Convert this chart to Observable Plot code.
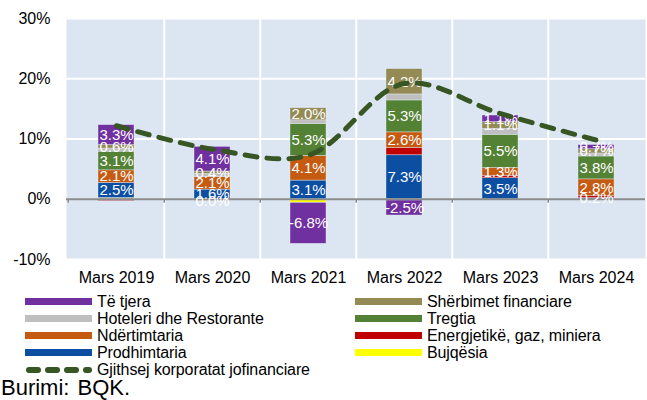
<!DOCTYPE html>
<html><head><meta charset="utf-8">
<script src="https://cdn.jsdelivr.net/npm/d3@7"></script>
<script src="https://cdn.jsdelivr.net/npm/@observablehq/plot@0.6"></script>
<style>
body{margin:0;background:#fff;font-family:"Liberation Sans",Arial,sans-serif;}
#wrap{width:647px;height:400px;position:relative;overflow:hidden}
#chart{position:absolute;left:0;top:0}
.item{position:absolute;height:17px;display:flex;align-items:center;font-size:16px;line-height:17px;color:#000;white-space:nowrap;letter-spacing:-0.1px}
.sw{width:67px;height:7px;margin-right:5px;flex:none}
.src{position:absolute;left:1px;top:376px;font-size:22px;line-height:24px;color:#000;word-spacing:2px}
</style></head><body><div id="wrap"><div id="chart"></div></div>
<script>
const years = ["Mars 2019","Mars 2020","Mars 2021","Mars 2022","Mars 2023","Mars 2024"];
const series = ["Bujqësia","Prodhimtaria","Energjetikë, gaz, miniera","Ndërtimtaria","Tregtia","Hoteleri dhe Restorante","Shërbimet financiare","Të tjera"];
const colors = ["#ffff00","#0b4ea2","#c00000","#c55a11","#548235","#bfbfbf","#948a54","#7030a0"];
const bujqesia     = [0.2, 0.0, -0.6, -0.2, -0.1, -0.1];
const prodhimtaria = [2.5, 1.6, 3.1, 7.3, 3.5, 0.2];
const energjetike  = [-0.3, -0.3, 0.0, 1.2, 0.4, 0.3];
const ndertimtaria = [2.1, 2.1, 4.1, 2.6, 1.3, 2.8];
const tregtia      = [3.1, -0.04, 5.3, 5.3, 5.5, 3.8];
const hoteleri     = [0.5, 0.5, 0.6, 1.0, 1.0, 0.5];
const sherbimet    = [0.6, 0.4, 2.0, 4.2, 1.1, 0.7];
const teTjera      = [3.3, 4.1, -6.8, -2.5, 1.1, 0.7];
const gjithsej     = [12.2, 8.3, 7.3, 19.2, 14.2, 9.8];
const lineName = "Gjithsej korporatat jofinanciare";
const labeledSeries = ["Prodhimtaria","Ndërtimtaria","Tregtia","Shërbimet financiare","Të tjera"];
const yTicks = [-10, 0, 10, 20, 30];
const legendLeft = ["Të tjera","Hoteleri dhe Restorante","Ndërtimtaria","Prodhimtaria"];
const legendRight = ["Shërbimet financiare","Tregtia","Energjetikë, gaz, miniera","Bujqësia"];
const sourceText = "Burimi: BQK.";

const valuesBySeries = [bujqesia, prodhimtaria, energjetike, ndertimtaria, tregtia, hoteleri, sherbimet, teTjera];
const rows = series.flatMap((s, i) => years.map((y, j) => ({year: y, series: s, value: valuesBySeries[i][j]})));
const lineRows = years.map((y, j) => ({year: y, total: gjithsej[j]}));
const fmt = v => (Math.round(v * 10) / 10 || 0).toFixed(1) + "%";

const W = 647, H = 290, mL = 66, mR = 2, mT = 18, mB = 31;
const band = (W - mL - mR) / years.length;
const lineColor = "#375623";

const chart = Plot.plot({
  width: W, height: H, marginLeft: mL, marginRight: mR, marginTop: mT, marginBottom: mB,
  style: {fontFamily: "'Liberation Sans', Arial, sans-serif", fontSize: "16px", color: "#000", background: "transparent"},
  x: {type: "band", domain: years, padding: 0, label: null, axis: null},
  y: {domain: [-10, 30], label: null, axis: null},
  color: {domain: series, range: colors},
  marks: [
    Plot.frame({fill: "#dce6f2", stroke: null}),
    Plot.ruleY(yTicks.filter(d => d !== 0), {stroke: "white", strokeWidth: 2}),
    Plot.ruleX(years.slice(1), {x: d => d, stroke: "white", strokeWidth: 2, dx: -band / 2}),
    Plot.barY(rows, {x: "year", y: "value", fill: "series", insetLeft: 30, insetRight: 30, stroke: "#e6edf5", strokeWidth: 0.6, strokeOpacity: 0.7}),
    Plot.ruleY([0], {stroke: "#8c8c8c", strokeWidth: 2}),
    Plot.ruleX(years, {x: d => d, y1: 0, y2: 0, dx: -band / 2, insetBottom: -4, stroke: "#8c8c8c", strokeWidth: 1.5}),
    Plot.text(rows, Plot.stackY({x: "year", y: "value", z: "series",
      text: d => labeledSeries.includes(d.series) ? fmt(d.value) : null,
      fill: "white", fontSize: 15})),
    Plot.line(lineRows, {x: "year", y: "total", curve: "catmull-rom", stroke: lineColor, strokeWidth: 5, strokeDasharray: "12,10", strokeLinecap: "round"}),
    Plot.axisY(yTicks, {tickFormat: d => d + "%", tickSize: 0, tickPadding: 16, fontSize: 16}),
    Plot.axisX(years, {tickSize: 0, tickPadding: 12, fontSize: 16})
  ]
});
document.getElementById("chart").appendChild(chart);

const wrap = document.getElementById("wrap");
const colorOf = s => colors[series.indexOf(s)];
function addItem(x, row, swatch, label) {
  const el = document.createElement("div");
  el.className = "item";
  el.style.left = x + "px";
  el.style.top = (293 + row * 17) + "px";
  el.appendChild(swatch);
  const t = document.createElement("span");
  t.textContent = label;
  el.appendChild(t);
  wrap.appendChild(el);
}
function box(c) { const d = document.createElement("div"); d.className = "sw"; d.style.background = c; return d; }
legendLeft.forEach((s, i) => addItem(25, i, box(colorOf(s)), s));
legendRight.forEach((s, i) => addItem(355, i, box(colorOf(s)), s));
const ns = "http://www.w3.org/2000/svg";
const sv = document.createElementNS(ns, "svg");
sv.setAttribute("width", 67); sv.setAttribute("height", 8);
sv.style.marginRight = "5px"; sv.style.flex = "none";
const ln = document.createElementNS(ns, "line");
ln.setAttribute("x1", 4); ln.setAttribute("x2", 64); ln.setAttribute("y1", 4); ln.setAttribute("y2", 4);
ln.setAttribute("stroke", lineColor); ln.setAttribute("stroke-width", 6);
ln.setAttribute("stroke-linecap", "round"); ln.setAttribute("stroke-dasharray", "9,10");
sv.appendChild(ln);
addItem(25, 4, sv, lineName);
const src = document.createElement("div");
src.className = "src"; src.textContent = sourceText;
wrap.appendChild(src);
</script></body></html>
